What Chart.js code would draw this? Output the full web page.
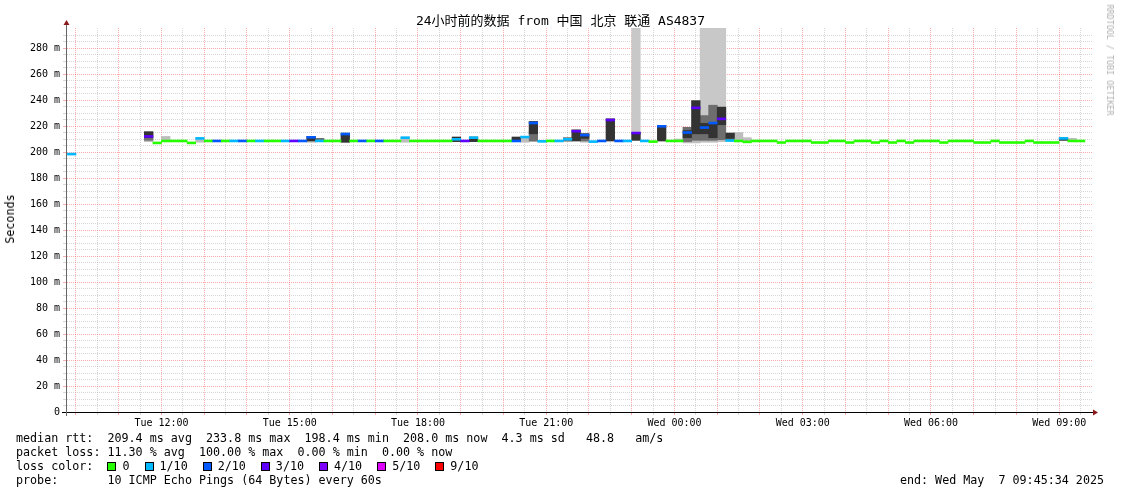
<!DOCTYPE html>
<html>
<head>
<meta charset="utf-8">
<title>SmokePing 24h</title>
<script src="https://cdn.jsdelivr.net/npm/chart.js@4.4.1/dist/chart.umd.min.js"></script>
<style>
  body { margin: 0; background: #fff; }
  #wrap { position: relative; width: 1121px; height: 494px; overflow: hidden;
          font-family: "DejaVu Sans Mono", "Noto Sans CJK SC", monospace; color: #000; }
  #chart { position: absolute; left: 0; top: 0; }
  #title { position: absolute; left: 0; width: 1121px; top: 13px; text-align: center;
           font-size: 13px; line-height: 16px; white-space: pre; }
  #ylabel { position: absolute; left: 10px; top: 219px; font-size: 11.7px; white-space: pre;
            transform: translate(-50%, -50%) rotate(-90deg); }
  #brand { position: absolute; left: 1110px; top: 60px; font-size: 8.4px; color: #b0b0b0; white-space: pre;
           transform: translate(-50%, -50%) rotate(90deg); }
  .row { position: absolute; left: 16px; font-size: 11.7px; line-height: 14px; white-space: pre; }
  .box { display: inline-block; width: 9px; height: 9px; border: 1px solid #000; box-sizing: border-box;
         margin-right: 6px; vertical-align: -1px; }
  .item { margin-right: 15px; }
  #end { position: absolute; right: 17px; top: 473px; font-size: 11.7px; line-height: 14px; white-space: pre; }
</style>
</head>
<body>
<div id="wrap">
  <canvas id="chart" width="1121" height="494"></canvas>
  <div id="title">24小时前的数据 from 中国 北京 联通 AS4837</div>
  <div id="ylabel">Seconds</div>
  <div id="brand">RRDTOOL / TOBI OETIKER</div>
  <div class="row" style="top:431px">median rtt:  209.4 ms avg  233.8 ms max  198.4 ms min  208.0 ms now  4.3 ms sd   48.8   am/s</div>
  <div class="row" style="top:445px">packet loss: 11.30 % avg  100.00 % max  0.00 % min  0.00 % now</div>
  <div class="row" id="lossRow" style="top:459px">loss color:  </div>
  <div class="row" style="top:473px">probe:       10 ICMP Echo Pings (64 Bytes) every 60s</div>
  <div id="end">end: Wed May  7 09:45:34 2025</div>
</div>
<script>
// time is in hours since Tue 00:00, bins are the 12 minute RRA steps
const START = 9.79;          // left edge of the graph
const firstBin = 9.8;        // Tue 09:48
const binSize = 0.2;

// median rtt per bin in ms (null = no data)
const median = [
  198.4, null, null, null, null, null, null, null, null,
  212, 207, 208.5, 208.5, 208.5, 207, 210.5, 208.5, 208.5, 208.5,
  208.5, 208.5, 208.5, 208.5, 208.5, 208.5, 208.5, 208.5, 208.5, 211.3,
  208.5, 208.5, 208.5, 213.8, 208.5, 208.5, 208.5, 208.5, 208.5, 208.5,
  211, 208.5, 208.5, 208.5, 208.5, 208.5, 209.8, 208.5, 211, 208.5,
  208.5, 208.5, 208.5, 208.5, 211.5, 222.3, 208.2, 208.5, 208.5, 209.8,
  216, 213, 208, 208.5, 224.6, 208.5, 208.5, 214.6, 208.5, 208,
  219.8, 208.5, 208.5, 215, 234, 218.8, 222.3, 225.5, 208.8, 208.5,
  207.8, 208.5, 208.5, 208.5, 207.3, 208.5, 208.5, 208.5, 207.3, 207.3,
  208.5, 208.5, 207.3, 208.5, 208.5, 207.3, 208.5, 207.3, 208.5, 207.3,
  208.5, 208.5, 208.5, 207.3, 208.5, 208.5, 208.5, 207.3, 207.3, 208.5,
  207.3, 207.3, 207.3, 208.5, 207.3, 207.3, 207.3, 210.5, 208.5, 208.5
];
// lost pings (of 10) per bin
const loss = [
  1, null, null, null, null, null, null, null, null,
  3, 0, 0, 0, 0, 0, 1, 0, 2, 0,
  1, 2, 0, 1, 0, 0, 1, 3, 2, 2,
  1, 0, 0, 2, 0, 2, 0, 2, 0, 0,
  1, 0, 0, 0, 0, 0, 1, 3, 1, 0,
  0, 0, 0, 2, 1, 2, 1, 0, 1, 1,
  3, 2, 1, 2, 3, 2, 1, 3, 1, 0,
  2, 0, 0, 2, 3, 2, 2, 3, 1, 0,
  0, 0, 0, 0, 0, 0, 0, 0, 0, 0,
  0, 0, 0, 0, 0, 0, 0, 0, 0, 0,
  0, 0, 0, 0, 0, 0, 0, 0, 0, 0,
  0, 0, 0, 0, 0, 0, 0, 1, 0, 0
];

// smoke (spread of the 10 pings): light outer part, mid part and dark core
const smokeBins = [9, 11, 15, 28, 29, 32, 39, 45, 47, 52, 53, 54, 58, 59, 60, 63, 66, 69, 71, 72, 73, 74, 75, 76, 77, 78, 79, 116, 117];
const smokeLo = [208, 208.5, 207.5, 207.5, 208.5, 207.5, 207.5, 208, 208, 208.5, 207.5, 208, 208, 208.5, 207.5, 208.5, 209, 208.5, 208.5, 207, 207, 207.5, 207.5, 208, 209, 209, 208, 209, 208.5];
const smokeHi = [215.5, 212, 210.5, 212, 210.5, 214.5, 211.5, 211.5, 211.5, 211.5, 211.5, 223.5, 211, 217, 214, 225.5, 215, 220.5, 210, 219, 239.5, 228, 236, 234.5, 214.5, 215, 211, 211, 210.5];
const midBins = [9, 29, 54, 58, 60, 72, 73, 74, 75, 76, 77];
const midLo = [209, 208.5, 208.5, 208.5, 208.5, 208, 209, 209, 209, 209.5, 209];
const midHi = [215.5, 210.5, 216, 211, 214, 219, 214, 228, 236, 234.5, 214.5];
const coreBins = [9, 28, 32, 45, 47, 52, 54, 59, 60, 63, 66, 69, 72, 73, 74, 75, 76, 77, 116];
const coreLo = [211, 208.5, 207.5, 208, 208, 208.5, 214, 208.5, 210.5, 208.5, 209, 208.5, 211, 214, 214, 211, 221, 210.5, 209];
const coreHi = [215.5, 212, 214.5, 211.5, 211.5, 211.5, 223.5, 217, 214, 225.5, 215, 220.5, 216.5, 239.5, 222, 222, 234.5, 214.5, 211];
// bins where some pings ran off the top of the graph
const dropBins = [66, 74, 75, 76];
const dropFrom = [215, 228, 236, 234.5];

const lossSteps = [0, 1, 2, 3, 4, 5, 9];
const lossLabels = ['0', '1/10', '2/10', '3/10', '4/10', '5/10', '9/10'];
const lossColors = ['#26ff00', '#00b8ff', '#0059ff', '#5e00ff', '#7e00ff', '#dd00ff', '#ff0000'];

const Y_MAX = 295.4;
const LINE = 0.75;   // half thickness of the median line, in ms
const RED = 'rgba(255, 70, 70, 0.45)';
const GREY = 'rgba(150, 150, 150, 0.38)';
const FONT = "'DejaVu Sans Mono', monospace";

const center = i => firstBin + binSize * (i + 0.5);

// loss colour legend
const lossRow = document.getElementById('lossRow');
lossLabels.forEach((lab, k) => {
    const item = document.createElement('span');
    item.className = 'item';
    item.innerHTML = '<span class="box" style="background:' + lossColors[k] + '"></span>' + lab;
    lossRow.appendChild(item);
});

// datasets
const medianPts = [], medianCols = [];
median.forEach((m, i) => {
    if (m === null) return;
    medianPts.push({ x: center(i), y: [m - LINE, m + LINE] });
    medianCols.push(lossColors[lossSteps.indexOf(loss[i])]);
});
const smokePts = smokeBins.map((b, k) => ({ x: center(b), y: [smokeLo[k], smokeHi[k]] }));
const midPts = midBins.map((b, k) => ({ x: center(b), y: [midLo[k], midHi[k]] }));
const corePts = coreBins.map((b, k) => ({ x: center(b), y: [coreLo[k], coreHi[k]] }));
const dropPts = dropBins.map((b, k) => ({ x: center(b), y: [dropFrom[k], Y_MAX] }));

const gridHours = [];
for (let h = 10; h <= START + 24; h += 0.5) gridHours.push(h);
const gridMs = [];
for (let v = 0; v < Y_MAX - 1; v += 5) gridMs.push(v);

const isHour = v => Math.abs(v - Math.round(v)) < 1e-6;
const xGridColor = c => (c.tick && isHour(c.tick.value)) ? RED : GREY;
const yGridColor = c => (c.tick && c.tick.value % 20 === 0) ? RED : GREY;

const axisArrows = {
    id: 'axisArrows',
    afterDraw(chart) {
        const { ctx, chartArea: a } = chart;
        ctx.save();
        ctx.lineWidth = 1;
        ctx.strokeStyle = '#000';
        ctx.beginPath();
        ctx.moveTo(a.left - 5, a.bottom + 0.5);
        ctx.lineTo(a.right + 1, a.bottom + 0.5);
        ctx.stroke();
        ctx.strokeStyle = '#666';
        ctx.beginPath();
        ctx.moveTo(a.left - 0.5, a.bottom + 4);
        ctx.lineTo(a.left - 0.5, a.top - 4);
        ctx.stroke();
        ctx.fillStyle = '#8b1a1a';
        ctx.beginPath();
        ctx.moveTo(a.right, a.bottom - 2.5);
        ctx.lineTo(a.right + 5, a.bottom + 0.5);
        ctx.lineTo(a.right, a.bottom + 3.5);
        ctx.fill();
        ctx.beginPath();
        ctx.moveTo(a.left - 3.5, a.top - 3);
        ctx.lineTo(a.left - 0.5, a.top - 8);
        ctx.lineTo(a.left + 2.5, a.top - 3);
        ctx.fill();
        ctx.restore();
    }
};

new Chart(document.getElementById('chart').getContext('2d'), {
    type: 'bar',
    data: {
        datasets: [{
            label: 'median',
            data: medianPts,
            backgroundColor: medianCols,
            order: 0
        }, {
            label: 'core',
            data: corePts,
            backgroundColor: '#333333',
            order: 1
        }, {
            label: 'mid',
            data: midPts,
            backgroundColor: '#6e6e6e',
            order: 2
        }, {
            label: 'smoke',
            data: smokePts,
            backgroundColor: '#bdbdbd',
            order: 3
        }, {
            label: 'drop',
            data: dropPts,
            backgroundColor: '#c8c8c8',
            order: 4
        }]
    },
    options: {
        responsive: false,
        animation: false,
        devicePixelRatio: 1,
        layout: { padding: { top: 28, right: 28, left: 0, bottom: 0 } },
        datasets: {
            bar: { grouped: false, categoryPercentage: 1, barPercentage: 1, borderWidth: 0 }
        },
        plugins: {
            legend: { display: false },
            tooltip: { enabled: false }
        },
        scales: {
            x: {
                type: 'linear',
                offset: false,
                min: START,
                max: START + 24,
                afterBuildTicks: s => { s.ticks = gridHours.map(v => ({ value: v })); },
                afterFit: s => { s.height = 82; },
                grid: { offset: false, color: xGridColor, tickColor: xGridColor, tickLength: 3 },
                border: { display: false, dash: [1, 1] },
                ticks: {
                    autoSkip: false,
                    maxRotation: 0,
                    padding: 2,
                    color: '#000',
                    font: { family: FONT, size: 10 },
                    callback: function(v) {
                        if (!isHour(v) || Math.round(v) % 3 !== 0) return '';
                        const h = Math.round(v);
                        const day = h < 24 ? 'Tue' : 'Wed';
                        return day + ' ' + String(h % 24).padStart(2, '0') + ':00';
                    }
                }
            },
            y: {
                min: 0,
                max: Y_MAX,
                afterBuildTicks: s => { s.ticks = gridMs.map(v => ({ value: v })); },
                afterFit: s => { s.width = 67; },
                grid: { color: yGridColor, tickColor: yGridColor, tickLength: 4 },
                border: { display: false, dash: [1, 1] },
                ticks: {
                    autoSkip: false,
                    padding: 3,
                    color: '#000',
                    font: { family: FONT, size: 10 },
                    callback: v => v % 20 !== 0 ? '' : (v === 0 ? '0' : v + ' m')
                }
            }
        }
    },
    plugins: [axisArrows]
});
</script>
</body>
</html>
